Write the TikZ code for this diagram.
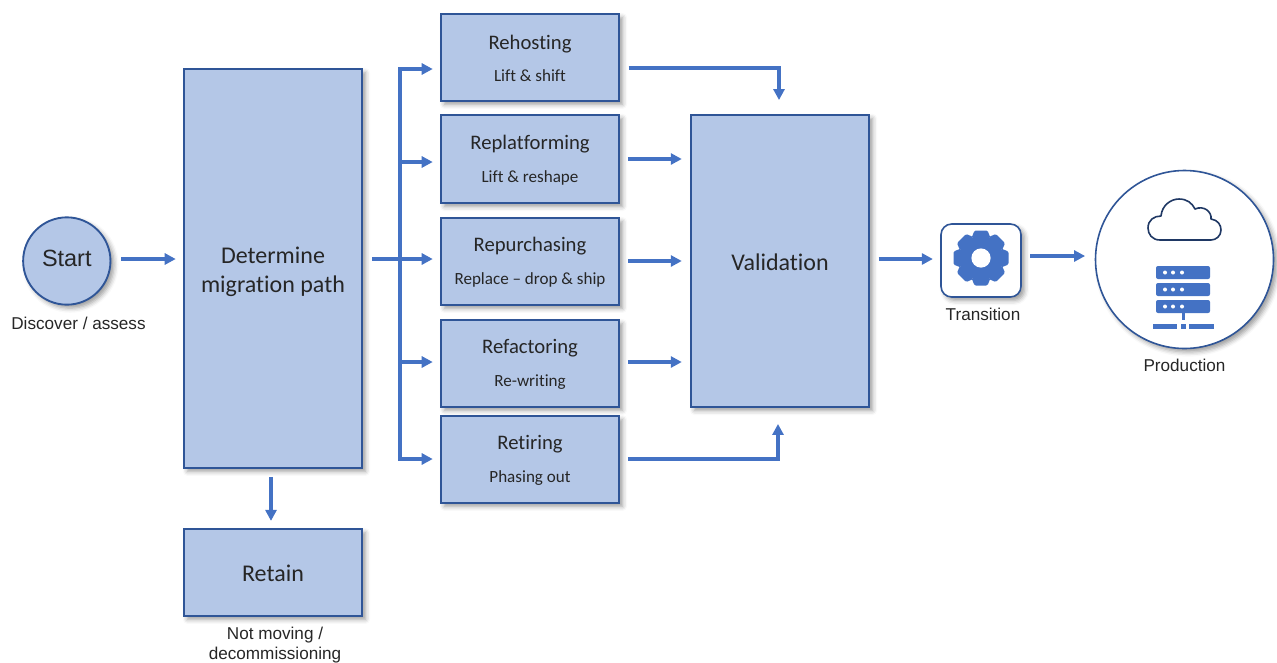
\documentclass[tikz,border=0pt]{standalone}
\usepackage{fontspec}
\setmainfont[RawFeature={-liga}]{Carlito}
\newfontfamily\arialf{Liberation Sans}
\usetikzlibrary{arrows.meta,shadows.blur,positioning}
\definecolor{boxfill}{HTML}{B4C7E7}
\definecolor{boxline}{HTML}{2F5597}
\definecolor{arrowc}{HTML}{4472C4}
\definecolor{inkc}{HTML}{262626}
\definecolor{cloudc}{HTML}{1F3864}
\tikzset{
  x=0.75pt,y=-0.75pt,
  soft/.style={blur shadow={shadow xshift=2.6pt,shadow yshift=-2.6pt,shadow blur radius=3.5pt,shadow opacity=40}},
  bx/.style={draw=boxline,line width=1.4pt,fill=boxfill,rectangle,minimum width=133.5pt,inner sep=0pt,align=center,text=inkc,soft},
  arr/.style={draw=arrowc,line width=2.3pt,line join=miter,-{Triangle[length=8.25pt,width=8.25pt]}},
  lab/.style={font=\arialf\fontsize{12.85pt}{15pt}\selectfont,text=inkc,inner sep=0pt,align=center},
  main/.style={font=\fontsize{18pt}{21.5pt}\selectfont},
}
\newcommand{\pad}[2]{\raisebox{0pt}[\dimexpr\height+#1\relax][\depth]{#2}}
\newcommand{\twoline}[2]{\pad{1.5pt}{\fontsize{15.5pt}{17pt}\selectfont #1}\\[12.5pt]{\fontsize{12.8pt}{14pt}\selectfont #2}}
\begin{document}
\begin{tikzpicture}
\useasboundingbox (0,0) rectangle (1277,662);
% circle Start
\node[circle,draw=boxline,line width=1.4pt,fill=boxfill,minimum size=65.5pt,inner sep=0pt,soft,text=inkc,font=\arialf\fontsize{17.6pt}{20pt}\selectfont] (start) at (66.8,261) {\raisebox{3.8pt}{Start}};
\node[lab] (startlab) at (78.5,323) {Discover / assess};
% boxes
\node[bx,minimum height=299pt,main] (path) at (273,268.5) {\pad{4.5pt}{Determine}\\migration path};
\node[bx,minimum height=65pt,main] (retain) at (273,572.5) {\pad{1.5pt}{Retain}};
\node[lab] (retainlab) at (275,645) {Not moving /\\decommissioning};
\node[bx,minimum height=65pt] (rehost) at (530,57.5) {\twoline{Rehosting}{Lift \& shift}};
\node[bx,minimum height=66pt] (replat) at (530,159) {\twoline{Replatforming}{Lift \& reshape}};
\node[bx,minimum height=65pt] (repur) at (530,261.5) {\twoline{Repurchasing}{Replace -- drop \& ship}};
\node[bx,minimum height=65pt] (refac) at (530,363.5) {\twoline{Refactoring}{Re-writing}};
\node[bx,minimum height=65pt] (retir) at (530,459.5) {\twoline{Retiring}{Phasing out}};
\node[bx,minimum height=219pt,main] (valid) at (780,261) {\pad{1.5pt}{Validation}};
% transition
\node[rectangle,rounded corners=8pt,draw=boxline,line width=1.2pt,fill=white,minimum width=60pt,minimum height=54.75pt,inner sep=0pt,soft] (trans) at (981,260.5) {};
\node[lab] (translab) at (983,314) {Transition};
\begin{scope}[shift={(981,258)}]
  \foreach \a in {0,45,...,315}
    \fill[arrowc,rotate=\a,rounded corners=1pt] (-9.5,-20) -- (-6.5,-27.5) -- (6.5,-27.5) -- (9.5,-20) -- cycle;
  \fill[arrowc] (0,0) circle (16.5pt);
  \fill[white] (0,0) circle (7.2pt);
\end{scope}
% production
\node[circle,draw=boxline,line width=1.2pt,fill=white,minimum size=133.5pt,inner sep=0pt,soft] (prod) at (1184.5,259.5) {};
\node[lab] (prodlab) at (1184.5,365) {Production};
% cloud
\draw[draw=cloudc,line width=1.2pt,fill=white,line join=round]
  (1160,240) .. controls (1152,240) and (1148,234) .. (1148,228)
  .. controls (1148,220) and (1154,216) .. (1161,216)
  .. controls (1162,205) and (1171,199) .. (1179,199)
  .. controls (1187,199) and (1192,203) .. (1195,209)
  .. controls (1204,205) and (1212,212) .. (1211,219)
  .. controls (1218,220) and (1221,225) .. (1221,230)
  .. controls (1221,236) and (1216,240) .. (1211,240) -- cycle;
% server
\foreach \yy in {266,283,300}{
  \fill[arrowc,rounded corners=1.5pt] (1156,\yy) rectangle (1210,\yy+13);
  \foreach \xx in {1165,1173,1182}
    \fill[white] (\xx,\yy+6.5) circle (1.5pt);
}
\fill[arrowc] (1181.5,313) rectangle (1184.5,320);
\fill[arrowc] (1153,323.5) rectangle (1177,329);
\fill[arrowc] (1181,323.5) rectangle (1186,329);
\fill[arrowc] (1189,323.5) rectangle (1214,329);
% connectors
\coordinate (branch) at (400,259);
\draw[arr,shorten <=7.5pt,shorten >=5.5pt] (start.east |- 0,259) -- (path.west |- 0,259);
\draw[arr,shorten <=6pt,shorten >=5.5pt] (path.south -| 271,0) -- (retain.north -| 271,0);
\draw[arr,shorten <=7pt,shorten >=5.5pt] (path.east |- branch) -- (repur.west |- branch);
\draw[arr,shorten >=5.5pt] (branch |- 0,162) -- (replat.west |- 0,162);
\draw[arr,shorten >=5.5pt] (branch |- 0,362) -- (refac.west |- 0,362);
\draw[arr,{Triangle[length=8.25pt,width=8.25pt]}-{Triangle[length=8.25pt,width=8.25pt]},shorten <=5.5pt,shorten >=5.5pt] (rehost.west |- 0,69) -- (branch |- 0,69) -- (branch |- 0,459) -- (retir.west |- 0,459);
\draw[arr,shorten <=6.5pt,shorten >=10.5pt] (rehost.east |- 0,68) -| (valid.north -| 779,0);
\draw[arr,shorten <=6pt,shorten >=6.2pt] (replat.east |- 0,159) -- (valid.west |- 0,159);
\draw[arr,shorten <=6pt,shorten >=6.2pt] (repur.east |- 0,261) -- (valid.west |- 0,261);
\draw[arr,shorten <=6pt,shorten >=6.2pt] (refac.east |- 0,362) -- (valid.west |- 0,362);
\draw[arr,shorten <=6pt,shorten >=12pt] (retir.east |- 0,459) -| (valid.south -| 778,0);
\draw[arr,shorten <=6.5pt,shorten >=5.5pt] (valid.east |- 0,259) -- (trans.west |- 0,259);
\draw[arr,shorten <=6.5pt,shorten >=7.2pt] (trans.east |- 0,256) -- (prod.west |- 0,256);
\end{tikzpicture}
\end{document}
